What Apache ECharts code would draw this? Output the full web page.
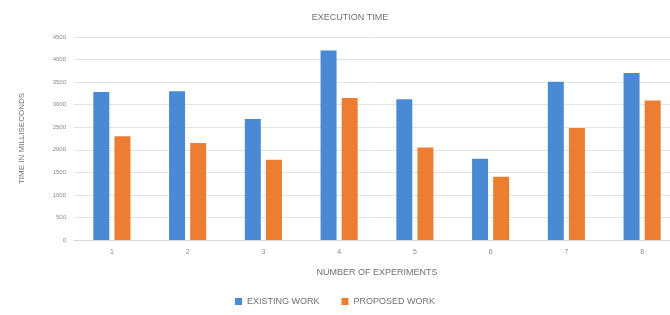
<!DOCTYPE html>
<html>
<head>
<meta charset="utf-8">
<script src="https://cdn.jsdelivr.net/npm/echarts@6/dist/echarts.min.js"></script>
<style>
  html, body { margin: 0; padding: 0; background: #fff; }
  #chart { width: 670px; height: 315px; }
</style>
</head>
<body>
<div id="chart"></div>
<script>
var experiments = ['1', '2', '3', '4', '5', '6', '7', '8'];
var existingWork = [3280, 3300, 2680, 4200, 3120, 1800, 3510, 3700];
var proposedWork = [2300, 2150, 1780, 3150, 2050, 1400, 2480, 3090];

var textGrey = '#8a8a8a';

var chart = echarts.init(document.getElementById('chart'));
chart.setOption({
  backgroundColor: '#fff',
  animation: false,
  title: {
    text: 'EXECUTION TIME',
    left: 345,
    top: 8,
    textAlign: 'center',
    textStyle: { fontSize: 9, fontWeight: 'normal', color: '#707070', fontFamily: 'Liberation Sans' }
  },
  legend: {
    bottom: 4,
    left: 'center',
    itemWidth: 7,
    itemHeight: 7,
    itemGap: 22,
    icon: 'rect',
    textStyle: { fontSize: 9, color: '#707070', fontFamily: 'Liberation Sans' },
    data: ['EXISTING WORK', 'PROPOSED WORK']
  },
  grid: { left: 74, top: 37, width: 606, bottom: 75, outerBoundsMode: 'none' },
  xAxis: {
    type: 'category',
    data: experiments,
    name: 'NUMBER OF EXPERIMENTS',
    nameLocation: 'middle',
    nameGap: 28,
    nameTextStyle: { fontSize: 9, color: '#707070', fontFamily: 'Liberation Sans' },
    axisLine: { lineStyle: { color: '#d9d9d9' } },
    axisTick: { show: false },
    axisLabel: { fontSize: 7, color: textGrey, margin: 9 }
  },
  yAxis: {
    type: 'value',
    min: 0,
    max: 4500,
    interval: 500,
    name: 'TIME IN MILLISECONDS',
    nameLocation: 'middle',
    nameGap: 48,
    nameTextStyle: { fontSize: 8, color: '#707070', fontFamily: 'Liberation Sans' },
    axisLine: { show: false },
    axisTick: { show: false },
    axisLabel: { fontSize: 6, color: textGrey, margin: 8, formatter: function (v) { return String(v); } },
    splitLine: { lineStyle: { color: '#e3e3e3' } }
  },
  series: [
    {
      name: 'EXISTING WORK',
      type: 'bar',
      data: existingWork,
      barWidth: 16,
      barGap: '32%',
      itemStyle: { color: '#4a8ad4' }
    },
    {
      name: 'PROPOSED WORK',
      type: 'bar',
      data: proposedWork,
      barWidth: 16,
      itemStyle: { color: '#ed7d31' }
    }
  ]
});
</script>
</body>
</html>
